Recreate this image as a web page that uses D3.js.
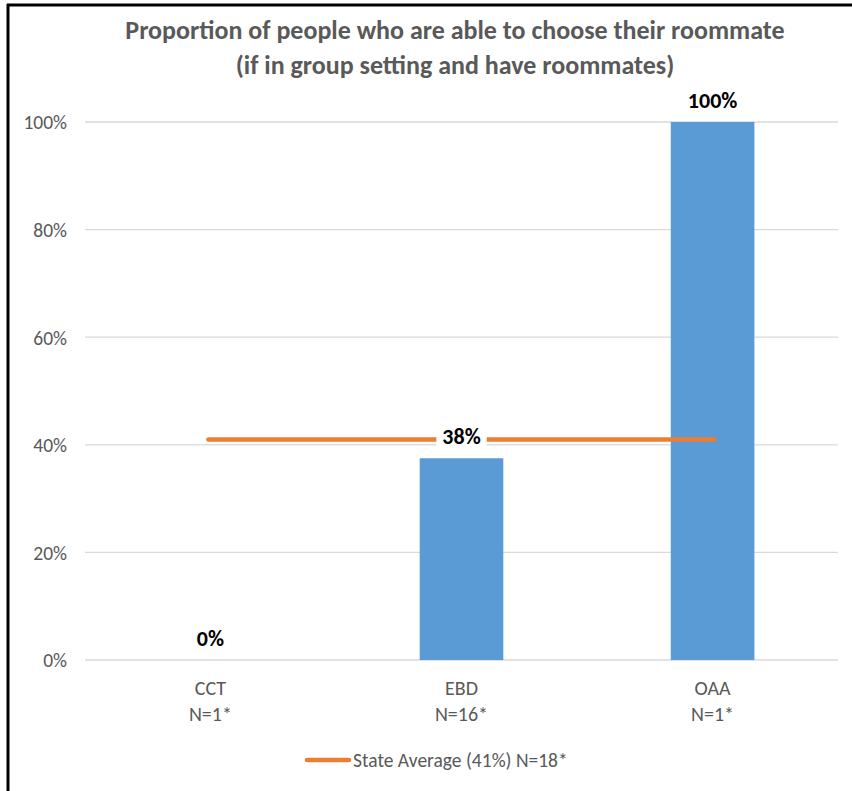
<!DOCTYPE html>
<html><head><meta charset="utf-8">
<script src="https://cdn.jsdelivr.net/npm/d3@7"></script>
<style>body{margin:0;background:#fff;} text{font-family:"Liberation Sans Narrow","Arial Narrow",Carlito,Calibri,sans-serif;}</style>
</head><body>
<svg id="c" width="852" height="791"></svg>
<script>
const categories = ["CCT", "EBD", "OAA"];
const nLabels = ["N=1*", "N=16*", "N=1*"];
const values = [0, 0.375, 1.0];
const valueLabels = ["0%", "38%", "100%"];
const stateAverage = 0.41;
const legendLabel = "State Average (41%) N=18*";
const yTicks = [0, 0.2, 0.4, 0.6, 0.8, 1.0];
const titleLines = ["Proportion of people who are able to choose their roommate", "(if in group setting and have roommates)"];

const svg = d3.select("#c");
// frame
svg.append("line").attr("x1",8).attr("x2",8).attr("y1",4).attr("y2",791).attr("stroke","#000").attr("stroke-width",3);
svg.append("line").attr("x1",7).attr("x2",852).attr("y1",5).attr("y2",5).attr("stroke","#000").attr("stroke-width",3);

const x = d3.scaleBand().domain(categories).range([85, 838]).paddingInner(0.667).paddingOuter(0.333);
const y = d3.scaleLinear().domain([0, 1]).range([660, 122]);

// title
svg.selectAll(".title").data(titleLines).enter().append("text")
  .attr("x", 455).attr("y", (d,i)=>39 + i*35).attr("text-anchor","middle")
  .attr("font-size", 26).attr("font-weight","bold").attr("fill","#595959").text(d=>d);

// gridlines
svg.append("g").selectAll("line").data(yTicks).enter().append("line")
  .attr("x1",85).attr("x2",838).attr("y1",d=>y(d)).attr("y2",d=>y(d))
  .attr("stroke","#D9D9D9").attr("stroke-width",1.3);

// y axis labels
const yAxis = d3.axisLeft(y).tickValues(yTicks).tickFormat(d3.format(".0%")).tickSize(0).tickPadding(0);
const ga = svg.append("g").attr("transform","translate(67,0)").call(yAxis);
ga.select(".domain").remove();
ga.selectAll("text").attr("font-size",19.5).attr("fill","#595959").attr("font-family",null).attr("dy","0.35em");

// bars
svg.append("g").selectAll("rect").data(values).enter().append("rect")
  .attr("x",(d,i)=>x(categories[i])).attr("width",x.bandwidth())
  .attr("y",d=>y(d)).attr("height",d=>y(0)-y(d)).attr("fill","#5B9BD5");

// state average line
const cx = c => x(c) + x.bandwidth()/2;
svg.append("line").attr("x1",cx(categories[0])-2).attr("x2",cx(categories[2])+2)
  .attr("y1",y(stateAverage)).attr("y2",y(stateAverage))
  .attr("stroke","#ED7D31").attr("stroke-width",4.5).attr("stroke-linecap","round");

// value labels
const lbl = svg.append("g").selectAll("g").data(values).enter().append("g");
lbl.each(function(d,i){
  const g = d3.select(this);
  const t = g.append("text").attr("x",cx(categories[i])).attr("y",y(d)-14)
    .attr("text-anchor","middle").attr("font-size",22).attr("font-weight","bold").attr("fill","#000").text(valueLabels[i]);
  if (i===1) {
    const b = t.node().getBBox();
    g.insert("rect","text").attr("x",b.x-6).attr("y",b.y-2).attr("width",b.width+12).attr("height",b.height+4).attr("fill","#fff");
  }
});

// category labels
const xg = svg.append("g").selectAll("g").data(categories).enter().append("g");
xg.append("text").attr("x",d=>cx(d)).attr("y",695).attr("text-anchor","middle").attr("font-size",20).attr("fill","#595959").text(d=>d);
xg.append("text").attr("x",d=>cx(d)).attr("y",721).attr("text-anchor","middle").attr("font-size",20).attr("fill","#595959").text((d,i)=>nLabels[i]);

// legend
svg.append("line").attr("x1",307).attr("x2",349).attr("y1",760).attr("y2",760)
  .attr("stroke","#ED7D31").attr("stroke-width",4.5).attr("stroke-linecap","round");
svg.append("text").attr("x",353).attr("y",766.5).attr("font-size",19.5).attr("fill","#595959").text(legendLabel);
</script>
</body></html>
